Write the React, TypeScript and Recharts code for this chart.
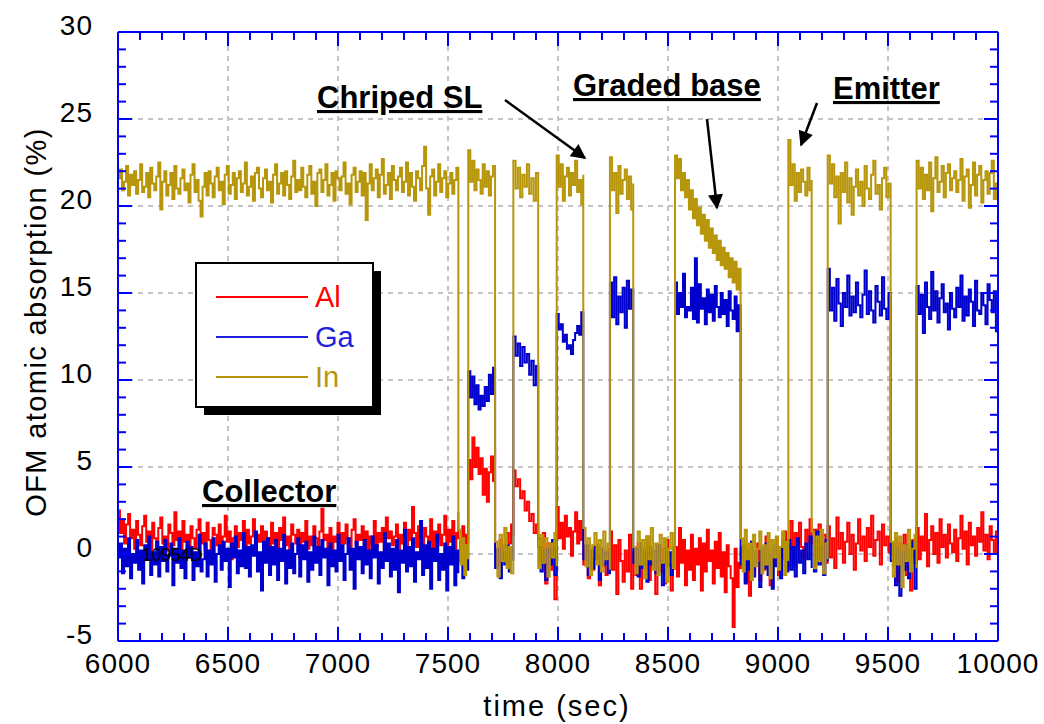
import { LineChart, Line, XAxis, YAxis, ReferenceLine } from "recharts";

// time breakpoints (sec) where the In shutter switches
const BREAKS = [
  6000, 7547, 7592, 7714, 7797, 7910, 7994, 8115, 8236, 8342, 8532, 8830,
  9047, 9153, 9226, 9512, 9630, 10000,
];

// ---- In (%), one list of readings per segment ----
const IN_SEGMENTS: number[][] = [
  [
    21.6, 22.1, 20.9, 21.4, 22.3, 20.6, 21.8, 21.2, 22.0, 20.7,
    21.5, 22.4, 20.8, 21.1, 21.9, 20.5, 22.2, 21.3, 20.9, 21.7,
    22.5, 19.8, 21.4, 22.0, 20.6, 21.2, 21.9, 20.4, 22.3, 21.0,
    20.7, 21.6, 22.1, 20.9, 21.3, 20.2, 21.8, 22.4, 20.8, 21.5,
    20.3, 19.4, 21.1, 21.9, 20.6, 22.0, 21.3, 20.5, 21.7, 22.2,
    20.9, 21.4, 20.1, 21.8, 22.3, 20.7, 21.2, 21.9, 20.4, 21.6,
    22.0, 20.8, 21.3, 22.5, 20.6, 21.1, 21.7, 20.3, 21.9, 22.2,
    21.0, 20.5, 21.6, 22.1, 20.9, 21.4, 20.2, 21.8, 22.4, 20.7,
    21.3, 21.9, 20.6, 22.0, 21.2, 20.4, 21.7, 22.6, 20.8, 21.5,
    20.9, 22.2, 21.1, 20.5, 21.8, 22.3, 20.7, 21.4, 20.0, 21.9,
    22.1, 20.8, 21.5, 22.4, 20.6, 21.2, 21.9, 20.3, 22.0, 21.6,
    20.9, 21.7, 22.5, 20.7, 21.3, 20.1, 21.8, 22.2, 20.8, 21.4,
    22.0, 20.6, 21.9, 19.2, 21.3, 22.4, 20.9, 21.6, 22.1, 20.5,
    21.8, 22.7, 20.7, 21.2, 21.9, 20.4, 22.3, 21.5, 20.9, 21.7,
    22.2, 20.8, 21.4, 22.5, 20.6, 21.9, 21.1, 20.3, 22.0, 21.6,
    20.9, 22.3, 23.4, 21.0, 19.5, 21.7, 22.1, 20.6, 21.4, 22.4,
    20.8, 21.6, 22.0, 20.5, 21.3, 21.9, 20.7, 21.5, 22.2, 20.9,
  ],
  [1.4, -0.6, 0.9, -1.2, 0.5, -0.3],
  [23.2, 21.4, 22.6, 20.9, 22.1, 21.5, 20.7, 22.4, 21.1, 22.0, 20.6, 21.7, 22.3, 20.8],
  [0.7, -1.3, 1.1, -0.4, 1.5, -0.8, 0.4, -1.1, 0.9],
  [22.6, 21.0, 22.2, 20.5, 21.8, 21.1, 22.4, 20.7, 21.6, 20.3, 21.9, 21.2],
  [-0.8, 1.1, -0.5, 0.9, -1.3, 0.6, -0.2, 1.2, -0.7],
  [22.9, 21.1, 22.4, 20.3, 21.7, 22.2, 20.6, 21.9, 21.2, 22.6, 20.8, 21.5, 20.1, 21.8],
  [1.5, -0.7, 0.9, -1.2, 0.5, 1.2, -0.6, 0.8, -1.0, 1.3, -0.3, 0.6, -0.9],
  [22.8, 20.9, 21.9, 19.6, 22.3, 20.7, 21.5, 22.1, 20.4, 21.7, 19.8, 21.3],
  [0.4, -1.1, 1.3, -0.6, 0.8, -1.4, 1.0, -0.3, 1.5, -0.9, 0.6, -1.2, 1.1, -0.5, 0.9, -1.6, 0.3, 1.2, -0.8, 0.7],
  [
    22.9, 21.6, 22.7, 20.9, 21.9, 20.5, 21.5, 19.8, 20.9, 19.3, 20.4, 18.9,
    19.9, 18.4, 19.5, 18.0, 19.2, 17.6, 18.7, 17.3, 18.3, 16.9, 18.0, 16.6,
    17.6, 16.4, 17.3, 15.9, 17.0, 15.6, 16.8, 15.2, 16.4, 14.8,
  ],
  [0.9, -1.0, 1.4, -0.3, 0.6, -1.5, 1.1, -0.7, 0.3, 1.3, -1.1, 0.5, -0.6, 1.2, -1.4, 0.8, -0.2, 1.0, -0.9, 0.4, 1.3, -1.2, 0.7, -0.4],
  [23.8, 21.2, 22.4, 20.3, 21.9, 20.8, 22.1, 21.4, 20.6, 22.2, 20.9, 21.5],
  [1.3, -0.8, 1.0, -0.4, 1.4, -1.1, 0.6, -0.3],
  [
    22.9, 21.3, 22.4, 20.5, 21.7, 19.0, 21.9, 20.8, 22.5, 20.2, 21.6, 19.5, 21.1, 22.1, 20.6,
    21.4, 20.0, 22.3, 21.0, 20.4, 21.8, 22.6, 20.7, 21.2, 19.8, 21.6, 22.2, 20.5, 21.3, 20.1,
  ],
  [0.7, -1.3, 1.2, -0.6, 1.0, -1.9, 0.5, -0.4, 1.4, -1.0, 0.3, 1.1, -0.8],
  [
    22.6, 21.0, 22.2, 20.4, 21.8, 20.9, 22.5, 19.7, 21.6, 22.8, 20.8, 21.4, 22.3, 20.5, 21.9, 22.4, 20.9, 21.6, 22.0, 20.8,
    21.5, 22.7, 20.3, 21.7, 22.1, 19.9, 21.2, 22.5, 20.6, 21.8, 22.3, 20.2, 21.5, 22.0, 20.7, 21.9, 22.6, 20.4, 21.3, 21.8,
  ],
];

// ---- Ga (%) ----
const GA_SEGMENTS: number[][] = [
  [
    -0.2, 0.6, -1.1, 0.3, -0.7, 0.9, -1.4, 0.0, -0.5, 0.8,
    -0.9, 0.2, -1.7, 0.5, -0.3, 1.0, -1.2, 0.1, -0.6, 0.7,
    -1.3, 0.4, -0.4, 0.8, -1.0, -0.1, 0.6, -1.8, 0.3, -0.5,
    0.9, -0.8, 0.2, -1.4, 0.7, -0.2, 0.4, -1.5, 0.1, -0.7,
    1.1, -1.0, -0.3, 0.6, -1.3, 0.2, -0.6, 0.9, -1.6, 0.0,
    0.5, -0.9, 0.7, -0.4, 0.3, -1.9, 0.6, -0.2, 1.0, -1.1,
    0.2, -0.7, 1.2, -0.8, 0.4, -1.3, 0.5, -0.1, 1.3, -1.0,
    0.1, -2.1, 0.7, -0.5, 0.9, -1.2, 0.4, -0.6, 0.8, -1.5,
    0.3, -0.4, 1.1, -1.7, 0.2, -0.8, 0.6, -1.1, 0.0, 0.9,
    -1.3, 0.5, -0.3, 0.7, -1.6, 0.1, -0.9, 1.0, -0.5, 0.4,
    -1.2, 0.8, -0.2, 0.3, -1.8, 0.6, -0.7, 0.2, -1.0, 1.1,
    -0.4, 0.5, -1.5, 0.0, 0.9, -0.9, 0.3, -2.0, 0.7, -0.3,
    0.4, -1.1, 0.8, -0.6, 0.2, -1.4, 1.0, -0.2, 0.5, -1.7,
    0.1, -0.8, 1.2, -0.4, 0.6, -1.3, 0.3, -0.9, 0.8, -2.2,
    0.2, -0.5, 1.4, -1.0, 0.4, -0.7, 0.9, -1.6, 0.1, -0.3,
    1.9, -1.2, 0.5, -0.8, 0.7, -2.0, 0.3, -0.4, 1.1, -1.5,
    0.0, -0.9, 0.6, -2.1, 0.4, -0.6, 1.0, -1.8, 0.2, -1.1,
  ],
  [-0.4, 0.7, -1.4, 0.2, -0.9, 0.4],
  [10.5, 9.0, 10.2, 8.6, 9.7, 8.3, 9.1, 8.5, 9.6, 8.8, 10.3, 9.2, 10.7, 9.4],
  [-0.8, 0.3, -1.4, 0.1, -0.6, 0.5, -1.0, 0.2, -0.4],
  [12.5, 11.4, 12.1, 10.8, 11.9, 11.0, 11.5, 10.3, 11.1, 9.7, 10.8, 10.2],
  [0.4, -1.0, 0.2, -1.5, 0.3, -0.6, 0.8, -1.2, 0.1],
  [13.8, 12.9, 13.2, 12.2, 12.6, 11.8, 12.0, 11.5, 12.3, 12.7, 13.1, 12.6, 13.9, 13.3],
  [-0.3, 0.5, -1.2, 0.2, -0.8, 0.4, -0.2, -1.5, 0.3, -0.6, 0.1, -1.1, 0.4],
  [15.6, 13.6, 15.9, 13.2, 14.8, 13.9, 15.3, 13.0, 15.7, 14.1, 15.2, 13.5],
  [-0.5, 0.3, -1.3, 0.6, -0.8, 0.1, -1.6, 0.4, -0.6, 0.2, -1.1, 0.5, -0.4, -1.8, 0.3, -0.7, 0.1, -1.2, 0.4, -0.3],
  [
    15.6, 13.8, 15.0, 14.2, 16.1, 13.6, 14.2, 14.0, 15.3, 13.5, 17.0, 13.3,
    15.5, 14.1, 14.7, 13.2, 15.2, 13.9, 14.9, 13.4, 15.4, 14.2, 13.6, 15.0,
    13.8, 14.6, 13.1, 15.1, 14.0, 13.5, 14.8, 12.8, 14.3, 13.6,
  ],
  [-0.6, 0.4, -1.7, 0.2, -0.9, 0.7, -1.3, 0.1, -0.5, -1.9, 0.3, -0.8, 0.6, -1.2, 0.0, -2.0, 0.5, -0.7, 0.2, -1.4, 0.8, -0.3, -1.0, 0.4],
  [0.8, -0.9, 0.4, -1.3, 0.9, -0.5, 0.2, -1.1, 0.6, -0.3, 1.0, -0.8],
  [0.9, -1.0, 1.3, -0.6, 0.4, -1.2, 0.8, -0.4],
  [
    16.4, 14.0, 15.3, 13.4, 15.8, 14.4, 13.1, 15.0, 14.2, 16.0, 13.7, 14.8, 13.9, 15.6, 14.3,
    13.6, 14.9, 16.3, 13.8, 15.1, 14.0, 13.3, 15.4, 14.5, 13.7, 15.9, 14.1, 13.5, 15.0, 14.4,
  ],
  [-0.4, 0.6, -1.8, 0.3, -2.4, 0.1, -0.9, 0.5, -1.4, -0.2, 0.7, -2.0, 0.2],
  [
    15.4, 13.8, 14.9, 12.7, 15.6, 14.2, 13.5, 16.2, 14.0, 15.1, 13.3, 14.7, 15.5, 13.9, 14.4, 12.9, 15.0, 14.1, 13.6, 15.3,
    14.2, 16.0, 13.4, 14.8, 13.7, 15.2, 14.5, 13.1, 15.7, 14.0, 13.8, 15.0, 14.3, 13.2, 15.5, 14.6, 13.9, 15.1, 12.8, 14.4,
  ],
];

// ---- Al (%) ----
const AL_SEGMENTS: number[][] = [
  [
    2.5, 1.2, 2.0, 0.6, 1.7, 2.3, 0.9, 1.4, 0.3, 1.9,
    1.1, 0.5, 1.6, 2.2, 0.7, 1.3, -0.1, 1.8, 0.9, 0.4,
    1.5, 2.1, 0.6, 1.0, 0.2, 1.7, 1.2, 0.5, 2.4, 0.8,
    1.3, 0.1, 1.9, 0.7, 1.1, -0.2, 1.6, 0.9, 0.4, 1.4,
    2.0, 0.6, 1.2, 0.3, 1.8, 0.8, 0.0, 1.5, 1.1, 0.5,
    1.7, 0.2, 1.0, 2.2, 0.7, 1.3, -0.3, 0.9, 1.6, 0.4,
    1.2, 0.8, 1.9, 0.1, 1.4, 0.6, 1.0, 2.0, 0.3, 1.1,
    0.7, 1.6, -0.1, 1.3, 0.9, 0.4, 1.8, 0.6, 1.2, 0.0,
    1.5, 0.8, 2.1, 0.5, 1.0, 0.2, 1.7, 1.1, 0.6, 1.4,
    -0.2, 1.2, 0.7, 1.9, 0.3, 1.0, 0.5, 1.6, 0.9, 0.1,
    1.3, 2.6, 0.8, 1.1, 0.4, 1.5, -0.4, 1.0, 0.7, 1.8,
    0.2, 1.2, 0.6, 1.7, 0.9, 0.0, 1.4, 2.0, 0.5, 1.1,
    0.8, 1.6, 0.3, 1.3, -0.5, 1.0, 0.6, 1.9, 0.4, 1.2,
    0.7, 1.5, 0.2, 2.1, 0.9, 1.3, 0.5, 1.0, 1.7, 0.3,
    1.1, 0.6, 1.8, 0.1, 1.4, 0.8, 2.7, 1.2, 0.4, 1.6,
    0.9, 0.3, 1.5, 1.0, 0.6, 2.0, 0.2, 1.3, 0.8, 1.7,
    0.5, 1.1, 2.2, 0.4, 1.4, 0.7, 1.9, 0.3, 1.2, 2.4,
  ],
  [0.9, 0.2, 1.6, 0.4, 1.1, 0.6],
  [5.4, 4.3, 6.7, 5.0, 6.1, 4.6, 5.5, 3.4, 4.9, 3.0, 4.7, 5.6, 4.2, 6.0],
  [0.2, -0.6, 0.8, -0.2, 0.5, 1.2, 0.6, 1.7, 1.0],
  [4.8, 3.9, 4.3, 3.2, 3.6, 2.5, 3.0, 1.9, 2.3, 1.2, 1.7, 0.9],
  [0.9, -0.4, 1.2, -1.7, 0.6, -0.9, 0.3, -2.6, 0.5],
  [2.7, 0.9, 1.8, 0.3, 2.2, 1.0, 1.5, -0.1, 1.3, 2.4, 0.6, 1.9, 0.8, 1.6],
  [-0.6, 0.4, -1.4, 0.1, -0.9, -0.3, 0.5, -1.8, 0.2, -0.7, -1.2, 0.3, -0.5],
  [1.3, -0.9, 0.5, -2.3, 0.8, -0.4, -1.6, 0.2, -1.0, 1.1, -2.0, -0.3],
  [0.1, -1.2, 0.6, -2.0, 0.3, -0.8, 1.0, -1.5, 0.2, -0.4, -2.3, 0.5, -1.0, 0.3, -1.7, 0.8, -0.6, -2.1, 0.4, -0.9],
  [
    0.4, -1.3, 1.5, -0.5, 0.8, -1.8, 0.2, -0.9, 1.1, -1.5, 0.3, -0.6,
    0.9, -2.1, 0.6, -1.0, 1.4, -0.4, 0.2, -1.7, 0.7, -0.8, 1.2, -1.3,
    0.1, -2.2, 0.5, -0.7, -1.4, -4.2, 0.3, -1.9, -0.5, 0.4,
  ],
  [-0.8, 0.5, -1.6, 0.2, -2.4, 0.7, -1.1, -0.3, 0.6, -1.5, 0.1, -0.9, 1.0, -0.4, -1.8, 0.3, -0.6, 0.9, -1.2, 0.4, -0.2, 1.3, -0.7, 0.5],
  [0.3, 1.9, -0.6, 1.2, 0.5, 1.8, 0.4, -0.2, 1.4, 0.7, 2.0, 0.6],
  [0.6, 1.4, -0.3, 1.7, 0.2, 1.1, -0.5, 1.5],
  [
    1.6, -0.2, 0.9, -0.8, 2.1, 0.3, 1.2, -0.5, 0.7, 1.8, 0.0, 1.1, -0.9, 0.6, 2.0,
    0.2, 1.0, -0.4, 1.5, 0.4, 2.2, -0.1, 0.8, 1.3, -0.6, 1.7, 0.5, 1.0, 0.1, 1.4,
  ],
  [0.4, -0.7, 0.9, -1.6, 0.6, -0.4, 1.1, -1.2, 0.3, -2.1, 0.8, -0.5, 1.0],
  [
    1.5, -0.3, 1.0, 0.2, 2.3, -0.7, 0.8, 1.6, 0.0, 1.2, -0.5, 2.0, 0.4, 1.1, -0.2, 1.7, 0.6, 0.1, 1.4, -0.4,
    0.9, 2.2, 0.3, 1.3, -0.6, 1.8, 0.5, 1.0, -0.1, 1.5, 0.7, 2.4, 0.2, 1.1, -0.3, 1.6, 0.8, 0.0, 1.3, 0.6,
  ],
];

const TIME_MAJOR = [6000, 6500, 7000, 7500, 8000, 8500, 9000, 9500, 10000];
const ABS_MAJOR = [-5, 0, 5, 10, 15, 20, 25, 30];

const AXIS_BLUE = "#0000ff";
const GRID_GRAY = "#c4c4c4";
const FONT = "'Liberation Sans', Arial, Helvetica, sans-serif";
const COLORS = { al: "#ff0000", ga: "#0000cc", in: "#b8960c" };

// spread each segment's readings across its time span
const toSeries = (segments: number[][]) =>
  segments.flatMap((vals, i) => {
    const t0 = BREAKS[i];
    const t1 = BREAKS[i + 1];
    return vals.map((v, j) => ({ t: t0 + ((t1 - t0) * j) / (vals.length - 1), v }));
  });

const withMinors = (majors: number[], parts: number) => {
  const out: number[] = [];
  majors.forEach((m, i) => {
    out.push(m);
    if (i < majors.length - 1) {
      const step = (majors[i + 1] - m) / parts;
      for (let k = 1; k < parts; k++) out.push(m + step * k);
    }
  });
  return out;
};

const alData = toSeries(AL_SEGMENTS);
const gaData = toSeries(GA_SEGMENTS);
const inData = toSeries(IN_SEGMENTS);
const timeTicks = withMinors(TIME_MAJOR, 5);
const absTicks = withMinors(ABS_MAJOR, 5);

const labelStyle = { fontFamily: FONT, fontSize: 28, fill: "#000", letterSpacing: 1 };

const BottomTick = (props: any) => {
  const { x, y, payload } = props;
  const major = TIME_MAJOR.includes(payload.value);
  return (
    <g>
      <line x1={x} x2={x} y1={y} y2={y - (major ? 14 : 8)} stroke={AXIS_BLUE} strokeWidth={2} />
      {major && (
        <text x={x} y={y + 32} textAnchor="middle" style={labelStyle}>
          {payload.value}
        </text>
      )}
    </g>
  );
};

const TopTick = (props: any) => {
  const { x, y, payload } = props;
  const major = TIME_MAJOR.includes(payload.value);
  return <line x1={x} x2={x} y1={y} y2={y + (major ? 14 : 8)} stroke={AXIS_BLUE} strokeWidth={2} />;
};

const LeftTick = (props: any) => {
  const { x, y, payload } = props;
  const major = ABS_MAJOR.includes(payload.value);
  return (
    <g>
      <line x1={x} x2={x + (major ? 14 : 8)} y1={y} y2={y} stroke={AXIS_BLUE} strokeWidth={2} />
      {major && (
        <text x={x - 25} y={y + 3} textAnchor="end" style={labelStyle}>
          {payload.value}
        </text>
      )}
    </g>
  );
};

const RightTick = (props: any) => {
  const { x, y, payload } = props;
  const major = ABS_MAJOR.includes(payload.value);
  return <line x1={x} x2={x - (major ? 14 : 8)} y1={y} y2={y} stroke={AXIS_BLUE} strokeWidth={2} />;
};

const Arrow = ({ x1, y1, x2, y2 }: { x1: number; y1: number; x2: number; y2: number }) => (
  <line x1={x1} y1={y1} x2={x2} y2={y2} stroke="#000" strokeWidth={2.5} markerEnd="url(#arrowHead)" />
);

const noteStyle = { fontFamily: FONT, fontSize: 31, fontWeight: 700, fill: "#000", textDecoration: "underline" };

const legendItems = [
  { name: "Al", color: COLORS.al },
  { name: "Ga", color: "#2020dd" },
  { name: "In", color: COLORS.in },
];

export default function App() {
  return (
    <div style={{ position: "absolute", left: 0, top: 0, width: 1044, height: 724, background: "#fff" }}>
      <LineChart width={1044} height={724} margin={{ top: 12, right: 26, bottom: 53, left: 58 }}>
        <XAxis
          xAxisId={0}
          dataKey="t"
          type="number"
          domain={[6000, 10000]}
          allowDataOverflow
          ticks={timeTicks}
          interval={0}
          height={30}
          tickSize={0}
          tickMargin={0}
          tickLine={false}
          tick={BottomTick}
          axisLine={{ stroke: AXIS_BLUE, strokeWidth: 2 }}
        />
        <XAxis
          xAxisId="top"
          orientation="top"
          dataKey="t"
          type="number"
          domain={[6000, 10000]}
          allowDataOverflow
          ticks={timeTicks}
          interval={0}
          height={20}
          tickSize={0}
          tickMargin={0}
          tickLine={false}
          tick={TopTick}
          axisLine={{ stroke: AXIS_BLUE, strokeWidth: 2 }}
        />
        <YAxis
          yAxisId={0}
          type="number"
          domain={[-5, 30]}
          allowDataOverflow
          ticks={absTicks}
          interval={0}
          width={60}
          tickSize={0}
          tickMargin={0}
          tickLine={false}
          tick={LeftTick}
          axisLine={{ stroke: AXIS_BLUE, strokeWidth: 2 }}
        />
        <YAxis
          yAxisId="right"
          orientation="right"
          type="number"
          domain={[-5, 30]}
          allowDataOverflow
          ticks={absTicks}
          interval={0}
          width={20}
          tickSize={0}
          tickMargin={0}
          tickLine={false}
          tick={RightTick}
          axisLine={{ stroke: AXIS_BLUE, strokeWidth: 2 }}
        />
        {TIME_MAJOR.slice(1, -1).map((t) => (
          <ReferenceLine key={`vx-${t}`} x={t} stroke={GRID_GRAY} strokeWidth={2} strokeDasharray="5 5" />
        ))}
        {ABS_MAJOR.slice(1, -1).map((v) => (
          <ReferenceLine key={`hy-${v}`} y={v} stroke={GRID_GRAY} strokeWidth={2} strokeDasharray="5 5" />
        ))}
        <Line data={alData} dataKey="v" name="Al" stroke={COLORS.al} strokeWidth={2} dot={false} type="stepAfter" isAnimationActive={false} />
        <Line data={gaData} dataKey="v" name="Ga" stroke={COLORS.ga} strokeWidth={2} dot={false} type="stepAfter" isAnimationActive={false} />
        <Line
          data={inData}
          dataKey="v"
          name="In"
          xAxisId="top"
          yAxisId="right"
          stroke={COLORS.in}
          strokeWidth={2}
          dot={false}
          type="stepAfter"
          isAnimationActive={false}
        />
      </LineChart>

      <svg width={1044} height={724} style={{ position: "absolute", left: 0, top: 0, pointerEvents: "none" }}>
        <defs>
          <marker id="arrowHead" viewBox="0 0 10 10" refX="9" refY="5" markerWidth="7" markerHeight="6" orient="auto" markerUnits="strokeWidth">
            <path d="M0,0 L10,5 L0,10 z" fill="#000" />
          </marker>
        </defs>

        <text
          transform="translate(46,322) rotate(-90)"
          textAnchor="middle"
          style={{ fontFamily: FONT, fontSize: 29, fill: "#000", letterSpacing: 1.4 }}
        >
          OFM atomic absorption (%)
        </text>
        <text x={557} y={716} textAnchor="middle" style={{ fontFamily: FONT, fontSize: 29, fill: "#000", letterSpacing: 2 }}>
          time (sec)
        </text>

        <text x={317} y={108} style={noteStyle}>Chriped SL</text>
        <text x={573} y={96} style={noteStyle}>Graded base</text>
        <text x={833} y={99} style={noteStyle}>Emitter</text>
        <text x={202} y={502} style={noteStyle}>Collector</text>
        <Arrow x1={505} y1={100} x2={585} y2={158} />
        <Arrow x1={707} y1={119} x2={717} y2={208} />
        <Arrow x1={817} y1={103} x2={801} y2={145} />

        <text x={142} y={561} style={{ fontFamily: FONT, fontSize: 18, fill: "#000", letterSpacing: -0.5 }}>10954D</text>

        <rect x={204} y={271} width={177} height={144} fill="#000" />
        <rect x={196} y={263} width={177} height={144} fill="#fff" stroke="#000" strokeWidth={2} />
        {legendItems.map((item, i) => (
          <g key={item.name}>
            <line x1={216} x2={308} y1={297 + i * 40} y2={297 + i * 40} stroke={item.color} strokeWidth={2} />
            <text x={315} y={307 + i * 40} style={{ fontFamily: FONT, fontSize: 29, fill: item.color }}>
              {item.name}
            </text>
          </g>
        ))}
      </svg>
    </div>
  );
}
